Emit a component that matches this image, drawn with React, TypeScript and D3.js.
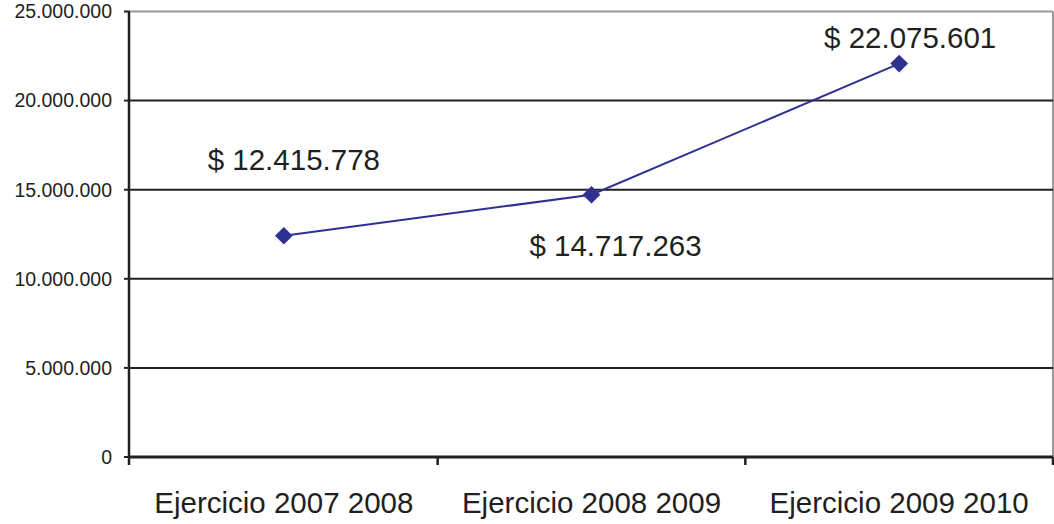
import React from 'react'
import * as d3 from 'd3'

const categories = ['Ejercicio 2007 2008', 'Ejercicio 2008 2009', 'Ejercicio 2009 2010']
const values = [12415778, 14717263, 22075601]
const valueLabels = ['$ 12.415.778', '$ 14.717.263', '$ 22.075.601']
const yTicks = [0, 5000000, 10000000, 15000000, 20000000, 25000000]

const width = 1054
const height = 524
const plot = { left: 130, right: 1053, top: 11.5, bottom: 457 }

// label offsets relative to the point (first and third above, second below)
const labelOffsets = [
  { dx: 10, dy: -66 },
  { dx: 24, dy: 61 },
  { dx: 11, dy: -16 },
]

const ink = '#231F20'
const lineColor = '#2E3192'
const fmt = (v: number) => (v === 0 ? '0' : d3.format(',')(v).replace(/,/g, '.'))

export default function App() {
  const x = d3.scaleBand<string>().domain(categories).range([plot.left, plot.right])
  const y = d3.scaleLinear().domain([0, 25000000]).range([plot.bottom, plot.top])

  const line = d3
    .line<number>()
    .x((d, i) => (x(categories[i]) as number) + x.bandwidth() / 2)
    .y((d) => y(d))

  const diamond = d3.symbol().type(d3.symbolDiamond2).size(200)()

  const font = 'Arial, "Liberation Sans", Helvetica, sans-serif'

  return (
    <svg
      width={width}
      height={height}
      style={{ position: 'absolute', left: 0, top: 0, background: '#fff' }}
    >
      {/* frame */}
      <line x1={plot.left} x2={plot.right} y1={plot.top} y2={plot.top} stroke="#999" strokeWidth={2} />
      <line x1={plot.right} x2={plot.right} y1={plot.top} y2={plot.bottom} stroke="#999" strokeWidth={2} />

      {/* grid lines */}
      {yTicks
        .filter((t) => t > 0 && t < 25000000)
        .map((t) => (
          <line key={'g' + t} x1={plot.left} x2={plot.right} y1={y(t)} y2={y(t)} stroke={ink} strokeWidth={2} />
        ))}

      {/* y axis */}
      <line x1={plot.left - 1} x2={plot.left - 1} y1={plot.top} y2={plot.bottom + 8} stroke={ink} strokeWidth={2.5} />
      {yTicks.map((t) => (
        <g key={'t' + t}>
          <line x1={plot.left - 6} x2={plot.left} y1={y(t)} y2={y(t)} stroke={ink} strokeWidth={2} />
          <text
            x={112}
            y={y(t)}
            dy="0.35em"
            textAnchor="end"
            fill={ink}
            style={{ fontFamily: font, fontSize: '19.5px' }}
          >
            {fmt(t)}
          </text>
        </g>
      ))}

      {/* x axis */}
      <line x1={plot.left} x2={plot.right} y1={plot.bottom} y2={plot.bottom} stroke={ink} strokeWidth={3} />
      {categories.map((c) => (
        <line
          key={'xt' + c}
          x1={(x(c) as number) + x.bandwidth()}
          x2={(x(c) as number) + x.bandwidth()}
          y1={plot.bottom}
          y2={plot.bottom + 8}
          stroke={ink}
          strokeWidth={2.5}
        />
      ))}
      {categories.map((c) => (
        <text
          key={'xl' + c}
          x={(x(c) as number) + x.bandwidth() / 2}
          y={513}
          textAnchor="middle"
          fill={ink}
          style={{ fontFamily: font, fontSize: '29.5px' }}
        >
          {c}
        </text>
      ))}

      {/* series */}
      <path d={line(values) || ''} fill="none" stroke={lineColor} strokeWidth={2} />
      {values.map((v, i) => {
        const cx = (x(categories[i]) as number) + x.bandwidth() / 2
        return (
          <g key={'p' + i}>
            <path d={diamond || ''} transform={`translate(${cx},${y(v)})`} fill={lineColor} />
            <text
              x={cx + labelOffsets[i].dx}
              y={y(v) + labelOffsets[i].dy}
              textAnchor="middle"
              fill={ink}
              style={{ fontFamily: font, fontSize: '29.5px' }}
            >
              {valueLabels[i]}
            </text>
          </g>
        )
      })}
    </svg>
  )
}
